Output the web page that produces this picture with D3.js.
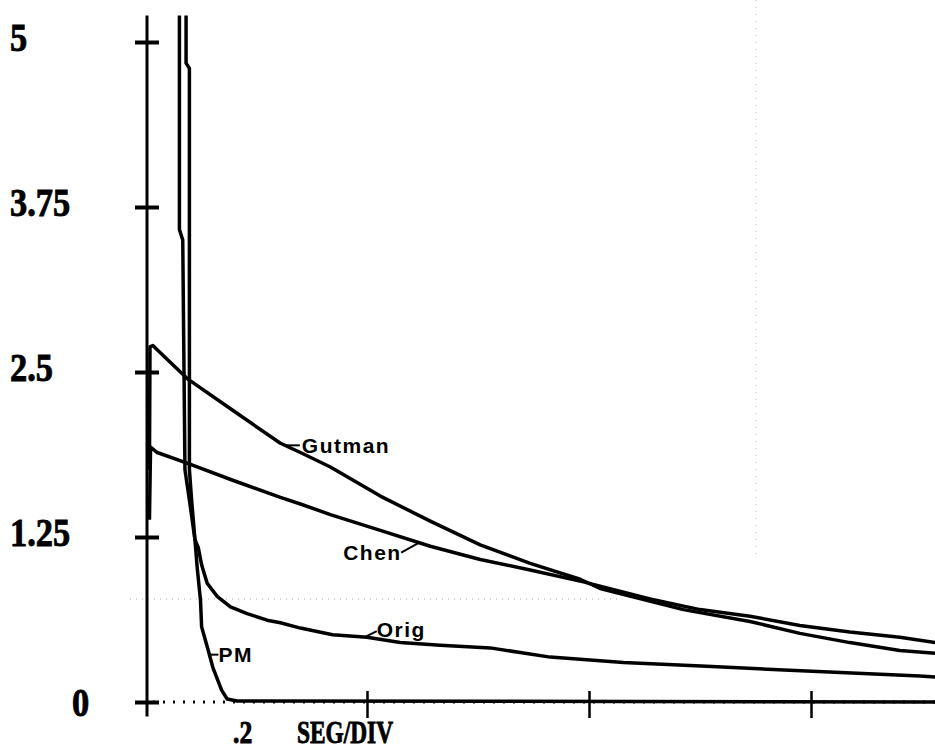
<!DOCTYPE html>
<html lang="en">
<head>
<meta charset="utf-8">
<script src="https://d3js.org/d3.v7.min.js"></script>
<style type="text/css">

body {
	margin: 0;
	background-color: #ffffff;
}

/* Big heavy numbers on the axes */
text.num {
	font-family: "Liberation Serif", "Times New Roman", serif;
	font-weight: bold;
	fill: #000;
	stroke: #000;
	stroke-width: 0.9px;
}

/* Curve names */
text.lbl {
	font-family: "Liberation Sans", Arial, sans-serif;
	font-weight: bold;
	font-size: 21px;
	letter-spacing: 1.5px;
	fill: #000;
}

.curve {
	fill: none;
	stroke: #000;
	stroke-width: 3.5;
	stroke-linejoin: round;
}

</style>
</head>
<body>
<script type="text/javascript">

// time in seconds (.2 s per division)
var pmT    = [0.031, 0.031, 0.034, 0.036, 0.040, 0.045, 0.047, 0.050, 0.051, 0.057, 0.061, 0.069, 0.074, 0.083, 0.712];
var pmV    = [6.00, 3.58, 3.50, 1.76, 1.53, 1.23, 1.02, 0.77, 0.57, 0.39, 0.265, 0.09, 0.023, 0.008, 0];

var origT  = [0.037, 0.037, 0.040, 0.040, 0.042, 0.045, 0.048, 0.051, 0.056, 0.065, 0.077, 0.092, 0.110, 0.122, 0.140, 0.169, 0.200, 0.230, 0.266, 0.311, 0.365, 0.431, 0.506, 0.596, 0.698, 0.712];
var origV  = [6.00, 4.84, 4.80, 1.76, 1.53, 1.23, 1.17, 1.04, 0.90, 0.80, 0.72, 0.67, 0.62, 0.60, 0.56, 0.51, 0.49, 0.45, 0.43, 0.41, 0.34, 0.30, 0.27, 0.235, 0.197, 0.19];

var gutmanT = [0.004, 0.0045, 0.007, 0.038, 0.079, 0.122, 0.140, 0.167, 0.212, 0.257, 0.302, 0.347, 0.392, 0.410, 0.485, 0.545, 0.590, 0.635, 0.680, 0.712];
var gutmanV = [1.76, 2.69, 2.70, 2.45, 2.21, 1.96, 1.89, 1.78, 1.56, 1.37, 1.19, 1.05, 0.93, 0.86, 0.70, 0.61, 0.52, 0.45, 0.39, 0.37];

var chenT  = [0.004, 0.005, 0.011, 0.041, 0.079, 0.122, 0.140, 0.167, 0.212, 0.257, 0.302, 0.347, 0.395, 0.455, 0.500, 0.545, 0.590, 0.635, 0.680, 0.712];
var chenV  = [1.38, 1.93, 1.89, 1.80, 1.68, 1.55, 1.50, 1.42, 1.30, 1.18, 1.08, 1.00, 0.91, 0.78, 0.70, 0.65, 0.58, 0.53, 0.49, 0.45];

var yTicks      = [0, 1.25, 2.5, 3.75, 5];
var yTickLabels = ["0", "1.25", "2.5", "3.75", "5"];
var xTicks      = [0.2, 0.4, 0.6];
var xUnitLabel  = ".2";
var xAxisLabel  = "SEG/DIV";

var width = 935;
var height = 749;

var x = d3.scaleLinear().domain([0, 0.2]).range([145, 367]);
var y = d3.scaleLinear().domain([0, 5]).range([702, 42]);

var svg = d3.select("body")
  .append("svg")
  .attr("width", width)
  .attr("height", height);

svg.append("rect").attr("width", width).attr("height", height).attr("fill", "#fff");

svg.append("defs").append("clipPath")
  .attr("id", "plot")
  .append("rect")
  .attr("x", x(0))
  .attr("y", y(5.2))
  .attr("width", width - x(0))
  .attr("height", height);

// faint scanner dots
svg.append("line")
  .attr("x1", 130).attr("x2", x(0.43))
  .attr("y1", y(0.78)).attr("y2", y(0.78))
  .attr("stroke", "#aaa").attr("stroke-width", 1).attr("stroke-dasharray", "1,5");
svg.append("line")
  .attr("x1", 756).attr("x2", 756)
  .attr("y1", 0).attr("y2", y(1.1))
  .attr("stroke", "#bbb").attr("stroke-width", 1).attr("stroke-dasharray", "1,6");

// squeeze a text sideways, keeping its height
function condense(sel, k) {
  sel.each(function() {
    var w = this.getComputedTextLength();
    d3.select(this)
      .attr("textLength", w * k)
      .attr("lengthAdjust", "spacingAndGlyphs");
  });
}

// x axis: dotted base line with crossing ticks
var xAxis = svg.append("g")
  .attr("transform", "translate(0," + y(0) + ")")
  .call(d3.axisBottom(x).tickValues(xTicks).tickSize(16).tickSizeOuter(0).tickFormat(""));
xAxis.select(".domain")
  .attr("d", "M" + (x(0) + 8) + ",0H" + width)
  .attr("stroke", "#000").attr("stroke-width", 3).attr("stroke-dasharray", "2,8");
xAxis.selectAll(".tick line")
  .attr("y1", -11).attr("stroke", "#000").attr("stroke-width", 2.5);

// y axis
var yAxis = svg.append("g")
  .attr("transform", "translate(147,0)")
  .call(d3.axisLeft(y).tickValues(yTicks).tickSize(12)
    .tickFormat(function(d, i) { return yTickLabels[i]; }));
yAxis.select(".domain").remove();
yAxis.append("line")
  .attr("y1", y(5.2)).attr("y2", y(-0.11))
  .attr("stroke", "#000").attr("stroke-width", 3);
yAxis.selectAll(".tick line")
  .attr("x1", 12).attr("stroke", "#000").attr("stroke-width", 4);
yAxis.selectAll(".tick text")
  .attr("class", "num")
  .style("font-size", "41px")
  .attr("text-anchor", "start")
  .attr("dy", function(d) { return d === 0 ? "13" : "8"; })
  .attr("x", function(d) { return d === 0 ? -75 : -137; })
  .call(condense, 0.84);

// x unit label
svg.append("text").attr("class", "num").style("font-size", "32px")
  .attr("x", 233).attr("y", 743)
  .text(xUnitLabel)
  .call(condense, 0.8);
svg.append("text").attr("class", "num").style("font-size", "32px")
  .attr("x", 297).attr("y", 743)
  .text(xAxisLabel)
  .call(condense, 0.73);

// curves
var curves = [
  { name: "PM", t: pmT, v: pmV },
  { name: "Orig", t: origT, v: origV },
  { name: "Gutman", t: gutmanT, v: gutmanV },
  { name: "Chen", t: chenT, v: chenV }
];

var line = d3.line()
  .x(function(d) { return x(d[0]); })
  .y(function(d) { return y(d[1]); });

var plot = svg.append("g").attr("clip-path", "url(#plot)");

plot.selectAll("path")
  .data(curves)
  .enter()
  .append("path")
  .attr("class", "curve")
  .attr("d", function(c) { return line(d3.zip(c.t, c.v)); });

// labels with little leader lines
function valueAt(c, t) {
  var i = d3.bisectLeft(c.t, t);
  var t0 = c.t[i - 1], t1 = c.t[i];
  return c.v[i - 1] + (c.v[i] - c.v[i - 1]) * (t - t0) / (t1 - t0);
}

var notes = [
  { name: "Gutman", at: 0.126, lx: 15, ly: 0, tx: 17, ty: 8 },
  { name: "Chen", at: 0.247, lx: -18, ly: 10, tx: -76, ty: 17 },
  { name: "Orig", at: 0.198, lx: 12, ly: -6, tx: 12, ty: 0 },
  { name: "PM", at: 0.058, lx: 9, ly: 0, tx: 9, ty: 7 }
];

notes.forEach(function(n) {
  var c = curves.filter(function(k) { return k.name === n.name; })[0];
  var px = x(n.at), py = y(valueAt(c, n.at));
  svg.append("line")
    .attr("x1", px).attr("y1", py)
    .attr("x2", px + n.lx).attr("y2", py + n.ly)
    .attr("stroke", "#000").attr("stroke-width", 2);
  svg.append("text")
    .attr("class", "lbl")
    .attr("x", px + n.tx)
    .attr("y", py + n.ty)
    .text(n.name);
});

</script>
</body>
</html>
